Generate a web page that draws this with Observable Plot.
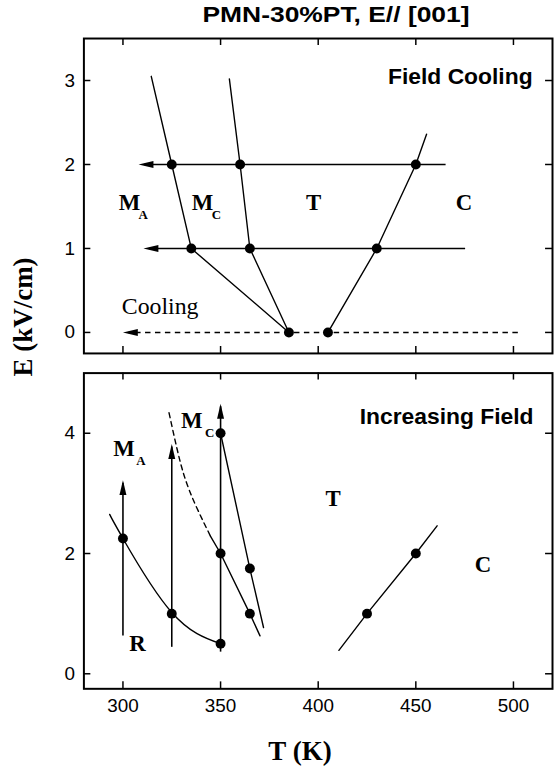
<!DOCTYPE html>
<html><head><meta charset="utf-8">
<script src="https://cdn.jsdelivr.net/npm/d3@7"></script>
<script src="https://cdn.jsdelivr.net/npm/@observablehq/plot@0.6"></script>
<style>
body{margin:0;background:#fff;}
#fig{position:relative;width:554px;height:768px;overflow:hidden;background:#fff;}
#fig svg{position:absolute;left:0;}
.lbl{position:absolute;white-space:nowrap;color:#000;}
#title{font-family:"Liberation Sans",Arial,sans-serif;font-weight:bold;font-size:22px;left:336px;top:15px;transform:translate(-50%,-50%) scaleX(1.2);}
#ylab{font-family:"Liberation Serif","Times New Roman",serif;font-weight:bold;font-size:27px;left:23px;top:317px;transform:translate(-50%,-50%) rotate(-90deg);}
#xlab{font-family:"Liberation Serif","Times New Roman",serif;font-weight:bold;font-size:27px;left:300px;top:751px;transform:translate(-50%,-50%);}
</style></head><body>
<div id="fig">
  <div id="title" class="lbl">PMN-30%PT, E// [001]</div>
  <div id="ylab" class="lbl">E (kV/cm)</div>
  <div id="xlab" class="lbl">T (K)</div>
</div>
<script>
// ---------- axes ----------
const tTicks = [300, 350, 400, 450, 500];
const eTicksTop = [0, 1, 2, 3];
const eTicksBottom = [0, 2, 4];
const tDomain = [280, 520];
const eDomainTop = [-0.25, 3.5];
const eDomainBottom = [-0.25, 5];

// ---------- Field Cooling (top) ----------
const fcDotT = [325, 360, 450, 335, 365, 430, 385, 405];
const fcDotE = [2, 2, 2, 1, 1, 1, 0, 0];
const fcMA_T = [314.5, 325, 335, 385];
const fcMA_E = [3.05, 2, 1, 0];
const fcMC_T = [354.5, 360, 365, 385];
const fcMC_E = [3.02, 2, 1, 0];
const fcC_T = [405, 430, 450, 455.5];
const fcC_E = [0, 1, 2, 2.36];
const fcPathE = [2, 1];
const fcPathFromT = [465.5, 475.5];
const fcPathToT = [308, 310.5];
const fcZeroE = [0];
const fcZeroFromT = [502.5];
const fcZeroToT = [300];
const fcLabels = ["M", "M", "T", "C"];
const fcLabelT = [303.4, 340.7, 397.7, 474.7];
const fcLabelE = [1.55, 1.55, 1.54, 1.55];
const fcSubs = ["A", "C"];
const fcSubT = [310.4, 347.9];
const fcSubE = [1.40, 1.40];
const fcNote = ["Cooling"];
const fcNoteT = [299.4];
const fcNoteE = [0.31];
const fcTitle = ["Field Cooling"];
const fcTitleT = [509.8];
const fcTitleE = [3.04];

// ---------- Increasing Field (bottom) ----------
const ifDotT = [300, 325, 350, 350, 350, 365, 365, 425, 450];
const ifDotE = [2.25, 1, 0.5, 2, 4, 1.75, 1, 1, 2];
const ifSweepT = [300, 325, 350];
const ifSweepFromE = [0.63, 0.44, 0.36];
const ifSweepToE = [3.22, 3.82, 4.49];
const ifRMA_T = [293.2, 300, 325, 350];
const ifRMA_E = [2.65, 2.25, 1.02, 0.5];
const ifMAMCdash_T = [323.6, 328, 334, 344.8];
const ifMAMCdash_E = [4.34, 3.7, 3.05, 2.29];
const ifMAMC_T = [344.8, 350, 365, 370.2];
const ifMAMC_E = [2.29, 2, 1, 0.63];
const ifMCT_T = [350, 365, 372];
const ifMCT_E = [4, 1.75, 0.77];
const ifTC_T = [410.6, 425, 450, 460.9];
const ifTC_E = [0.39, 1, 2, 2.46];
const ifLabels = ["M", "M", "T", "C", "R"];
const ifLabelT = [300.6, 335.2, 407.6, 484.4, 307.5];
const ifLabelE = [3.74, 4.21, 2.91, 1.82, 0.50];
const ifSubs = ["A", "C"];
const ifSubT = [309.2, 344.4];
const ifSubE = [3.54, 4.01];
const ifTitle = ["Increasing Field"];
const ifTitleT = [510.3];
const ifTitleE = [4.27];

// ---------- helpers ----------
const idx = a => a.map((_, i) => i);
const arrowHead = {
  draw(ctx) { const L = 15, W = 7; ctx.moveTo(0, 0); ctx.lineTo(L, -W / 2); ctx.lineTo(L, W / 2); ctx.closePath(); }
};
const serif = "'Liberation Serif', 'Times New Roman', serif";
const sans = "'Liberation Sans', Arial, sans-serif";
const PW = 558, ML = 84, MR = 2, TK = 7;

function lineOf(T, E, opts = {}) {
  return Plot.line(idx(T), {x: i => T[i], y: i => E[i], stroke: "black", strokeWidth: 1.4, ...opts});
}
function dotsOf(T, E) {
  return Plot.dot(idx(T), {x: i => T[i], y: i => E[i], r: 5, fill: "black", stroke: "none"});
}
function textOf(txt, T, E, opts) {
  return Plot.text(idx(txt), {x: i => T[i], y: i => E[i], text: i => txt[i], fill: "black", ...opts});
}

function panel({height, marginTop, marginBottom, eDomain, eTicks, xLabels, marks}) {
  const innerH = height - marginTop - marginBottom;
  const innerW = PW - ML - MR;
  return Plot.plot({
    width: PW, height, marginLeft: ML, marginRight: MR, marginTop, marginBottom,
    x: {domain: tDomain, axis: xLabels ? undefined : null},
    y: {domain: eDomain},
    style: {fontFamily: sans, fontSize: "19px", background: "transparent", overflow: "visible"},
    marks: [
      ...marks,
      Plot.tickX(tTicks, {x: d => d, insetTop: innerH - TK, stroke: "black", strokeWidth: 1.5}),
      Plot.tickX(tTicks, {x: d => d, insetBottom: innerH - TK, stroke: "black", strokeWidth: 1.5}),
      Plot.tickY(eTicks, {y: d => d, insetRight: innerW - TK, stroke: "black", strokeWidth: 1.5}),
      Plot.tickY(eTicks, {y: d => d, insetLeft: innerW - TK, stroke: "black", strokeWidth: 1.5}),
      Plot.axisY(eTicks, {tickSize: 0, tickPadding: 9, fontSize: 19, label: null, fill: "black", tickFormat: d => String(d)}),
      xLabels ? Plot.axisX(tTicks, {tickSize: 0, tickPadding: 10, fontSize: 19, label: null, fill: "black", tickFormat: d => String(d)}) : null,
      Plot.frame({stroke: "black", strokeWidth: 2})
    ]
  });
}

const topPanel = panel({
  height: 360, marginTop: 38.3, marginBottom: 4.5,
  eDomain: eDomainTop, eTicks: eTicksTop, xLabels: false,
  marks: [
    lineOf(fcMA_T, fcMA_E),
    lineOf(fcMC_T, fcMC_E),
    lineOf(fcC_T, fcC_E),
    Plot.ruleY(idx(fcPathE), {y: i => fcPathE[i], x1: i => fcPathFromT[i], x2: i => fcPathToT[i] + 3, stroke: "black", strokeWidth: 1.6}),
    Plot.ruleY(idx(fcZeroE), {y: i => fcZeroE[i], x1: i => fcZeroFromT[i], x2: i => fcZeroToT[i] + 3, stroke: "black", strokeWidth: 1.6, strokeDasharray: "5.5,4.5"}),
    Plot.dot(idx(fcPathE), {x: i => fcPathToT[i], y: i => fcPathE[i], symbol: arrowHead, r: 5, rotate: 0, fill: "black", stroke: "none"}),
    Plot.dot(idx(fcZeroE), {x: i => fcZeroToT[i], y: i => fcZeroE[i], symbol: arrowHead, r: 5, rotate: 0, fill: "black", stroke: "none"}),
    dotsOf(fcDotT, fcDotE),
    textOf(fcLabels, fcLabelT, fcLabelE, {fontFamily: serif, fontWeight: "bold", fontSize: 23}),
    textOf(fcSubs, fcSubT, fcSubE, {fontFamily: serif, fontWeight: "bold", fontSize: 13}),
    textOf(fcNote, fcNoteT, fcNoteE, {fontFamily: serif, fontSize: 24, textAnchor: "start"}),
    textOf(fcTitle, fcTitleT, fcTitleE, {fontFamily: sans, fontWeight: "bold", fontSize: 23, textAnchor: "end"})
  ]
});

const bottomPanel = panel({
  height: 408, marginTop: 12.7, marginBottom: 77.3,
  eDomain: eDomainBottom, eTicks: eTicksBottom, xLabels: true,
  marks: [
    lineOf(ifRMA_T, ifRMA_E, {curve: "natural"}),
    lineOf(ifMAMCdash_T, ifMAMCdash_E, {curve: "natural", strokeDasharray: "5,4"}),
    lineOf(ifMAMC_T, ifMAMC_E),
    lineOf(ifMCT_T, ifMCT_E),
    lineOf(ifTC_T, ifTC_E),
    Plot.ruleX(idx(ifSweepT), {x: i => ifSweepT[i], y1: i => ifSweepFromE[i], y2: i => ifSweepToE[i] - 0.05, stroke: "black", strokeWidth: 1.6}),
    Plot.dot(idx(ifSweepT), {x: i => ifSweepT[i], y: i => ifSweepToE[i], symbol: arrowHead, r: 5, rotate: 90, fill: "black", stroke: "none"}),
    dotsOf(ifDotT, ifDotE),
    textOf(ifLabels, ifLabelT, ifLabelE, {fontFamily: serif, fontWeight: "bold", fontSize: 23}),
    textOf(ifSubs, ifSubT, ifSubE, {fontFamily: serif, fontWeight: "bold", fontSize: 13}),
    textOf(ifTitle, ifTitleT, ifTitleE, {fontFamily: sans, fontWeight: "bold", fontSize: 23, textAnchor: "end"})
  ]
});

topPanel.style.top = "0px";
bottomPanel.style.top = "360px";
const fig = document.getElementById("fig");
fig.appendChild(topPanel);
fig.appendChild(bottomPanel);
</script>
</body></html>
